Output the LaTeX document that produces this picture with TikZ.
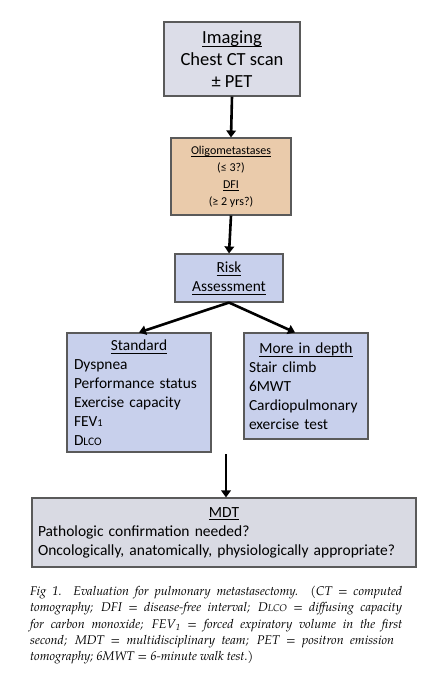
\documentclass[tikz,border=0pt]{standalone}
\usepackage{fontspec}
\setmainfont{TeX Gyre Pagella}
\newfontfamily\boxfont{Carlito}
\usetikzlibrary{arrows.meta}
\definecolor{imgfill}{HTML}{DCDDE8}
\definecolor{olifill}{HTML}{EACBAB}
\definecolor{bluefill}{HTML}{C8D0EC}
\definecolor{mdtfill}{HTML}{D9DAE3}
\definecolor{edgegray}{HTML}{5A5A5A}
\tikzset{
  box/.style={draw=edgegray, line width=1.1pt, inner sep=0pt, align=center},
  arr/.style={line width=2.6pt, -{Triangle[length=7pt,width=9.5pt]}},
}
\newcommand{\myul}[1]{\setbox0\hbox{#1}\rlap{\vrule height -0.15em depth 0.21em width \wd0}\box0}
\begin{document}
\begin{tikzpicture}[x=1pt,y=-1pt]
\useasboundingbox (0,0) rectangle (427,680);
\node[box, fill=imgfill, minimum width=136pt, minimum height=74pt,
  font=\boxfont\fontsize{18.5}{22}\selectfont] (img) at (232,59)
  {\myul{Imaging}\\Chest CT scan\\± PET};
\node[box, fill=olifill, minimum width=120pt, minimum height=77pt,
  font=\boxfont\fontsize{12}{17}\selectfont] (oli) at (231,176.5)
  {\myul{Oligometastases}\\(≤ 3?)\\\myul{DFI}\\(≥ 2 yrs?)};
\node[box, fill=bluefill, minimum width=108pt, minimum height=48pt,
  font=\boxfont\fontsize{15.4}{19}\selectfont] (risk) at (229,278)
  {\myul{Risk}\\\myul{Assessment}};
\node[box, fill=bluefill, minimum width=144pt, minimum height=119pt,
  inner xsep=7pt, text width=130pt, align=left,
  font=\boxfont\fontsize{15.4}{19}\selectfont] (std) at (139,392.5)
  {{\centering\myul{Standard}\par}Dyspnea\\Performance status\\Exercise capacity\\FEV\raisebox{-0.5pt}{\fontsize{10.5}{10}\selectfont 1}\\D{\fontsize{11.5}{11}\selectfont LCO}};
\node[box, fill=bluefill, minimum width=122pt, minimum height=106pt,
  inner xsep=5pt, text width=114pt, align=left,
  font=\boxfont\fontsize{15.4}{19}\selectfont] (more) at (306,386)
  {{\centering\myul{More in depth}\par}Stair climb\\6MWT\\Cardiopulmonary\\exercise test};
\node[box, fill=mdtfill, minimum width=384pt, minimum height=69pt,
  inner xsep=6pt, text width=372pt, align=left,
  font=\boxfont\fontsize{15.5}{19}\selectfont] (mdt) at (224,532.5)
  {{\centering\myul{MDT}\par}Pathologic confirmation needed?\\Oncologically, anatomically, physiologically appropriate?};
\draw[arr] (img.south) -- (oli.north);
\draw[arr] (oli.south) -- (risk.north);
\draw[arr] (risk.south) -- (std.north);
\draw[arr] (risk.south) -- ([xshift=-11pt]more.north);
\coordinate (mdtin) at (226,454);
\draw[arr] (mdtin) -- (mdtin |- mdt.north);
\node[anchor=north west, inner sep=0pt, text width=372pt, align=justify,
  font=\itshape\fontsize{12.6}{16.3}\selectfont] (cap) at (30,586)
  {Fig 1.\ \ Evaluation for pulmonary metastasectomy. (CT = computed\linebreak
  tomography; DFI = disease-free interval; D{\fontsize{9.7}{10}\selectfont LCO} = diffusing capacity\linebreak
  for carbon monoxide; FEV\textsubscript{1} = forced expiratory volume in the first\linebreak
  \hbox to 364pt{second; MDT = multidisciplinary team; PET = positron emission}\\
  tomography; 6MWT = 6-minute walk test.)};
\end{tikzpicture}
\end{document}
